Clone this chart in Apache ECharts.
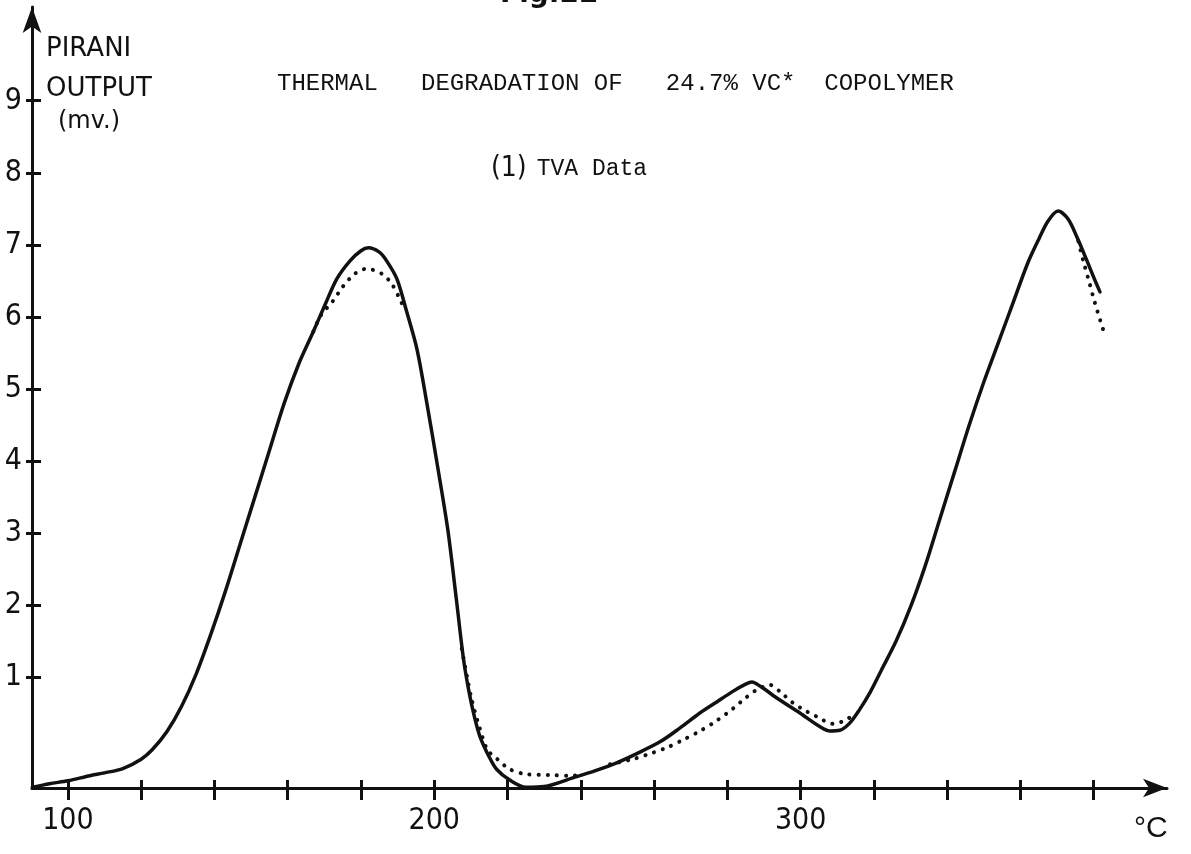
<!DOCTYPE html>
<html>
<head>
<meta charset="utf-8">
<script src="https://cdn.jsdelivr.net/npm/echarts@6/dist/echarts.min.js"></script>
<style>
  html, body { margin: 0; padding: 0; background: #ffffff; }
  #chart { width: 1191px; height: 854px; }
</style>
</head>
<body>
<div id="chart"></div>
<script>
// Temperature axis (°C) and Pirani output axis (mV)
const xTickValues = [100, 120, 140, 160, 180, 200, 220, 240, 260, 280, 300, 320, 340, 360, 380];
const xLabelValues = [100, 200, 300];
const yTickValues = [1, 2, 3, 4, 5, 6, 7, 8, 9];

// Solid trace: TVA Pirani output vs temperature
const solidTemp = [90.3, 95, 100, 106, 110, 115, 120, 123, 127, 131, 135, 139, 143, 147, 151, 155, 159, 163, 167, 170, 173.4, 177, 180, 182, 185, 187, 189.8, 192.5, 195.3, 198, 201, 203.7, 206, 208, 209.5, 211, 212.5, 215, 217, 220.6, 225, 230, 237.8, 244, 249.8, 255, 261.6, 267, 272.5, 277, 281.5, 285, 286.7, 289, 294, 299.8, 305, 308, 310.7, 313.4, 316, 319, 322, 326, 330, 334, 338, 342, 346, 350, 354, 358, 362, 365, 367.5, 370.3, 373, 375.5, 378, 380, 381.7];
const solidMv = [-0.52, -0.47, -0.43, -0.36, -0.32, -0.26, -0.13, 0.0, 0.25, 0.6, 1.05, 1.6, 2.2, 2.85, 3.5, 4.15, 4.8, 5.35, 5.8, 6.15, 6.53, 6.78, 6.92, 6.96, 6.9, 6.78, 6.53, 6.07, 5.55, 4.8, 3.9, 3.05, 2.1, 1.25, 0.8, 0.45, 0.18, -0.1, -0.27, -0.42, -0.52, -0.51, -0.39, -0.29, -0.18, -0.06, 0.11, 0.3, 0.51, 0.66, 0.81, 0.91, 0.94, 0.88, 0.7, 0.51, 0.33, 0.26, 0.27, 0.37, 0.55, 0.8, 1.1, 1.5, 1.98, 2.55, 3.2, 3.85, 4.5, 5.1, 5.65, 6.2, 6.75, 7.08, 7.33, 7.47, 7.36, 7.1, 6.8, 6.55, 6.35];

// Dotted trace: shown where it separates from the solid one (null = gap)
const dottedTemp = [167, 169, 172.3, 175, 178.3, 181.5, 185.7, 188.4, 190.6, 192, null,
  207.5, 209, 210.2, 212.4, 214.5, 217, 220.6, 225.3, 231.5, 237, 240, null,
  248, 254.2, 258, 263.5, 268, 272.5, 277, 281.5, 285, 288, 291.6, 294.5, 297.9, 301, 304.4, 308.8, 312.6, 315, null,
  375.8, 377.3, 378.8, 380.3, 381.8, 383];
const dottedMv = [5.8, 6.02, 6.22, 6.42, 6.6, 6.67, 6.6, 6.46, 6.25, 6.1, null,
  1.4, 1.0, 0.7, 0.3, 0.0, -0.12, -0.27, -0.34, -0.35, -0.36, -0.35, null,
  -0.2, -0.13, -0.07, 0.03, 0.14, 0.26, 0.4, 0.57, 0.72, 0.83, 0.9, 0.8, 0.65, 0.55, 0.46, 0.36, 0.42, 0.53, null,
  7.05, 6.75, 6.48, 6.2, 5.95, 5.76];

const pairs = (xs, ys) => xs.map((x, i) => (x === null ? [null, null] : [x, ys[i]]));

const ink = '#111111';
const letterFont = '"Liberation Sans Narrow", "DejaVu Sans Condensed", sans-serif';
const typeFont = '"Liberation Mono", "DejaVu Sans Mono", monospace';

const X_MIN = 90.2, X_MAX = 400, Y_MIN = -0.53, Y_MAX = 10.3;
const plotBox = { left: 32, right: 24, top: 7, bottom: 66, containLabel: false };

const chart = echarts.init(document.getElementById('chart'), null, { renderer: 'canvas' });

chart.setOption({
  backgroundColor: '#ffffff',
  animation: false,
  title: [
    {
      text: 'THERMAL   DEGRADATION OF   24.7% VC*  COPOLYMER',
      left: 272, top: 67,
      textStyle: { fontFamily: typeFont, fontSize: 24, fontWeight: 'normal', color: ink }
    },
    {
      text: '{a|(1)}  {b|TVA Data}',
      left: 486, top: 150,
      textStyle: {
        fontWeight: 'normal',
        rich: {
          a: { fontFamily: letterFont, fontSize: 28, fontWeight: 'normal', color: ink },
          b: { fontFamily: typeFont, fontSize: 23, fontWeight: 'normal', color: ink }
        }
      }
    }
  ],
  graphic: [
    { type: 'text', left: 46, top: 36, style: { text: 'PIRANI', font: '26px "DejaVu Sans", sans-serif', fill: ink } },
    { type: 'text', left: 46, top: 76, style: { text: 'OUTPUT', font: '26px "DejaVu Sans", sans-serif', fill: ink } },
    { type: 'text', left: 58, top: 110, style: { text: '(mv.)', font: '24px "DejaVu Sans", sans-serif', fill: ink } },
    { type: 'text', left: 1134, top: 814, style: { text: '°C', font: '30px "Liberation Sans Narrow", sans-serif', fill: ink } },
    { type: 'text', left: 500, top: -19, style: { text: 'Fig.22', font: 'bold 28px "DejaVu Sans", sans-serif', fill: ink } }
  ],
  // grid 0 carries the data and the drawn axes; grid 1 repeats the same box
  // so its axes can add the inner half of each cross-shaped tick
  grid: [Object.assign({}, plotBox), Object.assign({}, plotBox)],
  xAxis: [
    {
      gridIndex: 0, type: 'value', min: X_MIN, max: X_MAX, position: 'bottom',
      axisLine: { show: true, onZero: false, symbol: ['none', 'arrow'], symbolSize: [14, 24], lineStyle: { color: ink, width: 3 } },
      axisTick: { show: true, inside: false, length: 12, customValues: xTickValues, lineStyle: { color: ink, width: 3 } },
      axisLabel: { show: true, customValues: xLabelValues, margin: 18, fontFamily: letterFont, fontSize: 30, color: ink },
      splitLine: { show: false }
    },
    {
      gridIndex: 1, type: 'value', min: X_MIN, max: X_MAX, position: 'bottom',
      axisLine: { show: false, onZero: false },
      axisTick: { show: true, inside: true, length: 8, customValues: xTickValues, lineStyle: { color: ink, width: 3 } },
      axisLabel: { show: false },
      splitLine: { show: false }
    }
  ],
  yAxis: [
    {
      gridIndex: 0, type: 'value', min: Y_MIN, max: Y_MAX, position: 'left',
      axisLine: { show: true, onZero: false, symbol: ['none', 'arrow'], symbolSize: [14, 26], lineStyle: { color: ink, width: 3 } },
      axisTick: { show: true, inside: false, length: 6, customValues: yTickValues, lineStyle: { color: ink, width: 3 } },
      axisLabel: { show: true, customValues: yTickValues, margin: 10, fontFamily: letterFont, fontSize: 30, color: ink },
      splitLine: { show: false }
    },
    {
      gridIndex: 1, type: 'value', min: Y_MIN, max: Y_MAX, position: 'left',
      axisLine: { show: false, onZero: false },
      axisTick: { show: true, inside: true, length: 9, customValues: yTickValues, lineStyle: { color: ink, width: 3 } },
      axisLabel: { show: false },
      splitLine: { show: false }
    }
  ],
  series: [
    {
      name: 'dotted', type: 'line', xAxisIndex: 0, yAxisIndex: 0,
      data: pairs(dottedTemp, dottedMv),
      smooth: 0.3, showSymbol: false, connectNulls: false, z: 2,
      lineStyle: { color: ink, width: 4, type: [0.1, 9], cap: 'round' }
    },
    {
      name: 'solid', type: 'line', xAxisIndex: 0, yAxisIndex: 0,
      data: pairs(solidTemp, solidMv),
      smooth: 0.3, showSymbol: false, z: 3,
      lineStyle: { color: ink, width: 3.5, cap: 'round', join: 'round' }
    }
  ]
});
</script>
</body>
</html>
